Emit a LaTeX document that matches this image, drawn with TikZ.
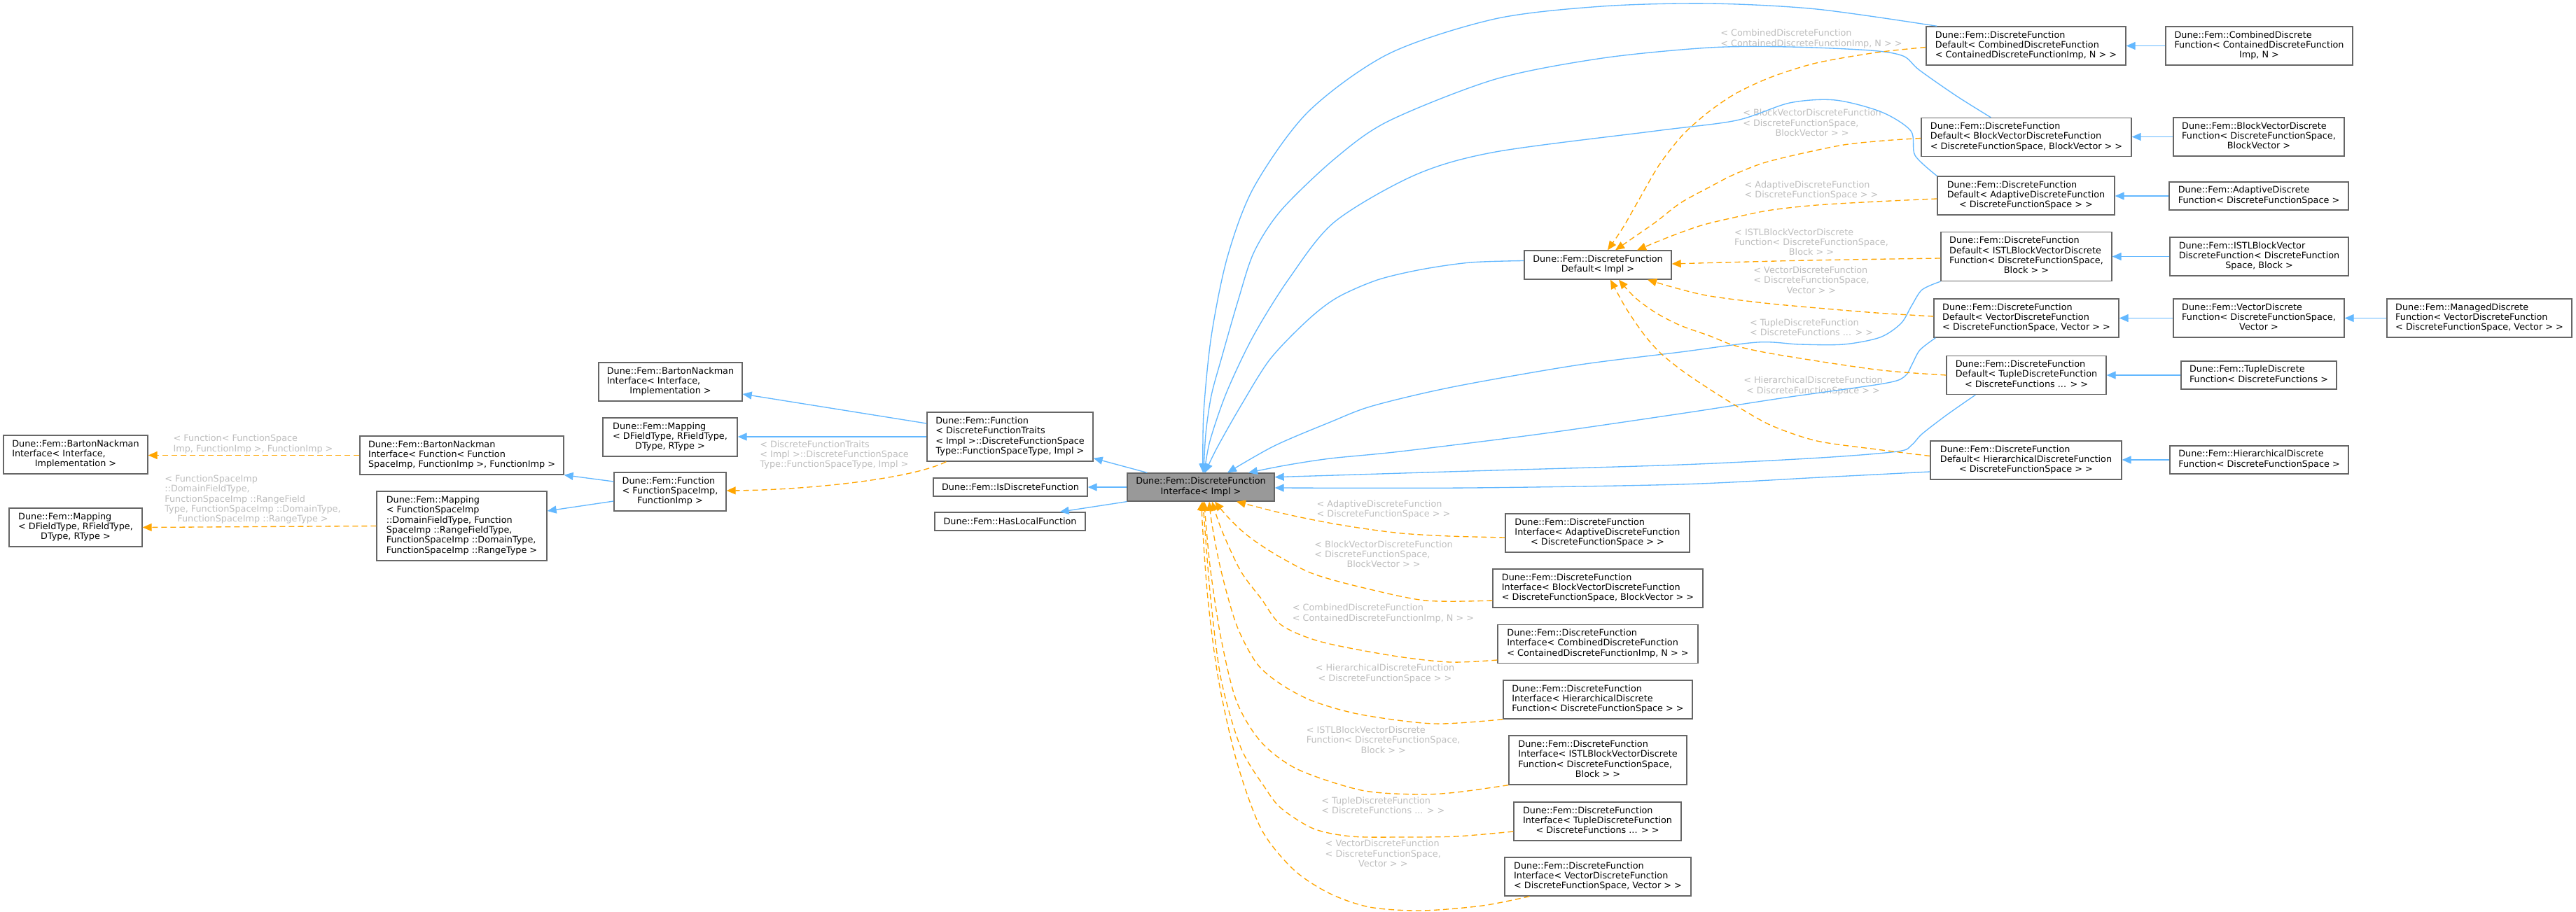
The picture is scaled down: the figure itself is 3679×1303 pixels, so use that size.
\documentclass[tikz,border=0pt]{standalone}
\usepackage{fontspec}
\setmainfont{DejaVu Sans}
\usetikzlibrary{arrows.meta}
\definecolor{cblue}{HTML}{63B8FF}
\definecolor{corange}{HTML}{FFA500}
\definecolor{cborder}{HTML}{666666}
\definecolor{cfill}{HTML}{999999}
\definecolor{clabel}{HTML}{BEBEBE}
\newcommand{\dl}[2]{\begin{tabular}{@{}l@{}}#1\\\multicolumn{1}{@{}c@{}}{#2}\end{tabular}}
\begin{document}
\begin{tikzpicture}[x=1pt,y=-1pt,
 every node/.style={font=\fontsize{12.8}{14.3}\selectfont},
 box/.style={draw=cborder, line width=1.33pt, fill=white, inner sep=0pt},
 mainbox/.style={box, fill=cfill},
 lbl/.style={text=clabel, inner sep=0pt},
 inh/.style={draw=cblue, line width=1.33pt, -{Triangle[length=13pt,width=11pt]}},
 tpl/.style={draw=corange, line width=1.33pt, dash pattern=on 8pt off 5pt, -{Triangle[length=13pt,width=11pt]}},
]
\useasboundingbox[fill=white] (0,0) rectangle (3679,1303);

% ---- left part
\node[box, minimum width=206pt, minimum height=55pt] (A1) at (108,649.5) {\dl{Dune::Fem::BartonNackman\\Interface< Interface,}{Implementation >}};
\node[box, minimum width=190pt, minimum height=55pt] (A2) at (108,753.5) {\dl{Dune::Fem::Mapping\\< DFieldType, RFieldType,}{DType, RType >}};
\node[box, minimum width=291pt, minimum height=55pt] (B1) at (659.5,650.5) {\dl{Dune::Fem::BartonNackman\\Interface< Function< Function}{SpaceImp, FunctionImp >, FunctionImp >}};
\node[box, minimum width=243pt, minimum height=99pt] (B2) at (659.5,751.5) {\dl{Dune::Fem::Mapping\\< FunctionSpaceImp\\::DomainFieldType, Function\\SpaceImp ::RangeFieldType,\\ FunctionSpaceImp ::DomainType,}{FunctionSpaceImp ::RangeType >}};
\node[box, minimum width=205pt, minimum height=55pt] (A3) at (957.5,545.5) {\dl{Dune::Fem::BartonNackman\\Interface< Interface,}{Implementation >}};
\node[box, minimum width=192pt, minimum height=55pt] (A4) at (957,624.5) {\dl{Dune::Fem::Mapping\\< DFieldType, RFieldType,}{DType, RType >}};
\node[box, minimum width=160pt, minimum height=55pt] (C) at (957,702.5) {\dl{Dune::Fem::Function\\< FunctionSpaceImp,}{FunctionImp >}};
\node[box, minimum width=237pt, minimum height=70pt] (D) at (1442.5,624) {\dl{Dune::Fem::Function\\< DiscreteFunctionTraits\\< Impl >::DiscreteFunctionSpace}{Type::FunctionSpaceType, Impl >}};
\node[box, minimum width=220pt, minimum height=26pt] (E) at (1443,696) {Dune::Fem::IsDiscreteFunction};
\node[box, minimum width=215pt, minimum height=26pt] (F) at (1442.5,745) {Dune::Fem::HasLocalFunction};
\node[mainbox, minimum width=210pt, minimum height=40pt] (G) at (1715,696) {\dl{Dune::Fem::DiscreteFunction}{Interface< Impl >}};
\node[box, minimum width=210pt, minimum height=41pt] (H) at (2282,378.5) {\dl{Dune::Fem::DiscreteFunction}{Default< Impl >}};

% ---- Default column
\node[box, minimum width=285pt, minimum height=55pt] (I1) at (2893.5,65.5) {\dl{Dune::Fem::DiscreteFunction\\Default< CombinedDiscreteFunction}{< ContainedDiscreteFunctionImp, N > >}};
\node[box, minimum width=300pt, minimum height=55pt] (I2) at (2894,196) {\dl{Dune::Fem::DiscreteFunction\\Default< BlockVectorDiscreteFunction}{< DiscreteFunctionSpace, BlockVector > >}};
\node[box, minimum width=253pt, minimum height=55pt] (I3) at (2893.5,279.5) {\dl{Dune::Fem::DiscreteFunction\\Default< AdaptiveDiscreteFunction}{< DiscreteFunctionSpace > >}};
\node[box, minimum width=244pt, minimum height=70pt] (I4) at (2894,366.5) {\dl{Dune::Fem::DiscreteFunction\\Default< ISTLBlockVectorDiscrete\\Function< DiscreteFunctionSpace,}{Block > >}};
\node[box, minimum width=264pt, minimum height=55pt] (I5) at (2894,454.5) {\dl{Dune::Fem::DiscreteFunction\\Default< VectorDiscreteFunction}{< DiscreteFunctionSpace, Vector > >}};
\node[box, minimum width=228pt, minimum height=55pt] (I6) at (2894,536) {\dl{Dune::Fem::DiscreteFunction\\Default< TupleDiscreteFunction}{< DiscreteFunctions ... > >}};
\node[box, minimum width=273pt, minimum height=55pt] (I7) at (2893.5,657.5) {\dl{Dune::Fem::DiscreteFunction\\Default< HierarchicalDiscreteFunction}{< DiscreteFunctionSpace > >}};

% ---- derived column
\node[box, minimum width=267pt, minimum height=55pt] (J1) at (3226.5,65.5) {\dl{Dune::Fem::CombinedDiscrete\\Function< ContainedDiscreteFunction}{Imp, N >}};
\node[box, minimum width=244pt, minimum height=55pt] (J2) at (3226,195.5) {\dl{Dune::Fem::BlockVectorDiscrete\\Function< DiscreteFunctionSpace,}{BlockVector >}};
\node[box, minimum width=256pt, minimum height=40pt] (J3) at (3226,280) {\dl{Dune::Fem::AdaptiveDiscrete}{Function< DiscreteFunctionSpace >}};
\node[box, minimum width=255pt, minimum height=55pt] (J4) at (3226.5,366.5) {\dl{Dune::Fem::ISTLBlockVector\\DiscreteFunction< DiscreteFunction}{Space, Block >}};
\node[box, minimum width=244pt, minimum height=55pt] (J5) at (3226,454.5) {\dl{Dune::Fem::VectorDiscrete\\Function< DiscreteFunctionSpace,}{Vector >}};
\node[box, minimum width=222pt, minimum height=40pt] (J6) at (3226,536) {\dl{Dune::Fem::TupleDiscrete}{Function< DiscreteFunctions >}};
\node[box, minimum width=255pt, minimum height=40pt] (J7) at (3226.5,657) {\dl{Dune::Fem::HierarchicalDiscrete}{Function< DiscreteFunctionSpace >}};
\node[box, minimum width=264pt, minimum height=55pt] (K) at (3541,454.5) {\dl{Dune::Fem::ManagedDiscrete\\Function< VectorDiscreteFunction}{< DiscreteFunctionSpace, Vector > >}};

% ---- Interface instances
\node[box, minimum width=263pt, minimum height=55pt] (M1) at (2281.5,761.5) {\dl{Dune::Fem::DiscreteFunction\\Interface< AdaptiveDiscreteFunction}{< DiscreteFunctionSpace > >}};
\node[box, minimum width=300pt, minimum height=55pt] (M2) at (2282,840.5) {\dl{Dune::Fem::DiscreteFunction\\Interface< BlockVectorDiscreteFunction}{< DiscreteFunctionSpace, BlockVector > >}};
\node[box, minimum width=286pt, minimum height=55pt] (M3) at (2282,920) {\dl{Dune::Fem::DiscreteFunction\\Interface< CombinedDiscreteFunction}{< ContainedDiscreteFunctionImp, N > >}};
\node[box, minimum width=270pt, minimum height=55pt] (M4) at (2282,999.5) {\dl{Dune::Fem::DiscreteFunction\\Interface< HierarchicalDiscrete}{Function< DiscreteFunctionSpace > >}};
\node[box, minimum width=254pt, minimum height=70pt] (M5) at (2282,1086) {\dl{Dune::Fem::DiscreteFunction\\Interface< ISTLBlockVectorDiscrete\\Function< DiscreteFunctionSpace,}{Block > >}};
\node[box, minimum width=239pt, minimum height=55pt] (M6) at (2281.5,1173.5) {\dl{Dune::Fem::DiscreteFunction\\Interface< TupleDiscreteFunction}{< DiscreteFunctions ... > >}};
\node[box, minimum width=266pt, minimum height=55pt] (M7) at (2282,1252.5) {\dl{Dune::Fem::DiscreteFunction\\Interface< VectorDiscreteFunction}{< DiscreteFunctionSpace, Vector > >}};

% ---- edge labels
\node[lbl] (lA) at (361.5,635) {\dl{< Function< FunctionSpace}{Imp, FunctionImp >, FunctionImp >}};
\node[lbl] (lB) at (361,714.3) {\dl{< FunctionSpaceImp\\::DomainFieldType,\\FunctionSpaceImp ::RangeField\\Type, FunctionSpaceImp ::DomainType,}{FunctionSpaceImp ::RangeType >}};
\node[lbl] (lC) at (1191.5,650.7) {\dl{< DiscreteFunctionTraits\\< Impl >::DiscreteFunctionSpace}{Type::FunctionSpaceType, Impl >}};
\node[lbl] (lD) at (2587,56.2) {\dl{< CombinedDiscreteFunction}{< ContainedDiscreteFunctionImp, N > >}};
\node[lbl] (lE) at (2588,177.3) {\dl{< BlockVectorDiscreteFunction\\< DiscreteFunctionSpace,}{BlockVector > >}};
\node[lbl] (lF) at (2587,272.5) {\dl{< AdaptiveDiscreteFunction}{< DiscreteFunctionSpace > >}};
\node[lbl] (lG) at (2587,347.7) {\dl{< ISTLBlockVectorDiscrete\\Function< DiscreteFunctionSpace,}{Block > >}};
\node[lbl] (lH) at (2587,402) {\dl{< VectorDiscreteFunction\\< DiscreteFunctionSpace,}{Vector > >}};
\node[lbl] (lI) at (2587,469.7) {\dl{< TupleDiscreteFunction}{< DiscreteFunctions ... > >}};
\node[lbl] (lJ) at (2589.5,552) {\dl{< HierarchicalDiscreteFunction}{< DiscreteFunctionSpace > >}};
\node[lbl] (lK) at (1976,728.5) {\dl{< AdaptiveDiscreteFunction}{< DiscreteFunctionSpace > >}};
\node[lbl] (lL) at (1976,793.6) {\dl{< BlockVectorDiscreteFunction\\< DiscreteFunctionSpace,}{BlockVector > >}};
\node[lbl] (lM) at (1975.5,877) {\dl{< CombinedDiscreteFunction}{< ContainedDiscreteFunctionImp, N > >}};
\node[lbl] (lN) at (1978,963) {\dl{< HierarchicalDiscreteFunction}{< DiscreteFunctionSpace > >}};
\node[lbl] (lO) at (1975.7,1059) {\dl{< ISTLBlockVectorDiscrete\\Function< DiscreteFunctionSpace,}{Block > >}};
\node[lbl] (lP) at (1975.4,1152.3) {\dl{< TupleDiscreteFunction}{< DiscreteFunctions ... > >}};
\node[lbl] (lQ) at (1975.3,1221.3) {\dl{< VectorDiscreteFunction\\< DiscreteFunctionSpace,}{Vector > >}};

% ---- left edges
\draw[tpl] (B1.west) -- (B1.west -| A1.east);
\draw[tpl] (B2.west) -- (A2.east);
\draw[inh] ([yshift=14.5pt]C.west) -- (B1.south east);
\draw[inh] ([yshift=-13.5pt]C.west) -- ([yshift=21.5pt]B2.east);
\draw[inh] ([yshift=19pt]D.west) -- ([yshift=-17.5pt]A3.east);
\draw[inh] (D.west) -- (D.west -| A4.east);
\draw[tpl] ([xshift=28pt]D.south west) .. controls (1300,685) and (1150,700) .. ([yshift=1.5pt]C.east);
\draw[inh] ([xshift=29pt]G.north west) -- ([yshift=5pt]D.south east);
\draw[inh] (G.west) -- (E.east);
\draw[inh] (G.south west) -- ([xshift=-37pt]F.north east);

% ---- right horizontal edges
\draw[inh] (J1.west) -- (J1.west -| I1.east);
\draw[inh] (J2.west) -- (J2.west -| I2.east);
\draw[inh] (J3.west) -- (J3.west -| I3.east);
\draw[inh] (J4.west) -- (J4.west -| I4.east);
\draw[inh] (J5.west) -- (J5.west -| I5.east);
\draw[inh] (K.west) -- (K.west -| J5.east);
\draw[inh] (J6.west) -- (J6.west -| I6.east);
\draw[inh] (J7.west) -- (J7.west -| I7.east);

% ---- Default instances -> Interface (blue)
\draw[inh] plot[smooth,tension=0.5] coordinates {([xshift=16pt]I1.north west) (2594,13) (2441,5) (2288,9) (2135,27) (1983,77) (1868,160) (1791,267) (1753,367) (1730,480) (1719,590) ([xshift=3pt]G.north)};
\draw[inh] plot[smooth,tension=0.5] coordinates {([xshift=100pt]I2.north west) (2794,137) (2741,100) (2718,80) (2671,72) (2556,67) (2442,68) (2289,83) (2136,113) (1983,173) (1906,227) (1830,300) (1791,360) (1768,430) (1745,510) (1730,565) (1722,620) ([xshift=4pt]G.north)};
\draw[inh] plot[smooth,tension=0.5] coordinates {(I3.north west) (2735,222) (2729,187) (2687,160) (2621,143) (2556,147) (2480,172) (2365,187) (2136,217) (2021,250) (1906,317) (1841,398) (1790,480) (1752,560) (1728,630) ([xshift=5pt]G.north)};
\draw[inh] plot[smooth,tension=0.5] coordinates {([yshift=6pt]H.west) (2100,375) (2030,385) (1967,400) (1910,425) (1868,457) (1814,513) (1772,580) (1738,640) ([xshift=6pt]G.north)};
\draw[inh] plot[smooth,tension=0.5] coordinates {(I4.south west) (2745,414) (2730,437) (2715,462) (2685,482) (2633,492) (2570,492) (2510,489) (2400,503) (2250,522) (2074,553) (1960,580) (1900,603) (1820,637) ([xshift=38pt]G.north)};
\draw[inh] plot[smooth,tension=0.5] coordinates {([xshift=3pt]I5.south west) (2742,500) (2731,520) (2720,538) (2690,548) (2550,568) (2400,591) (2200,620) (2000,645) (1900,655) (1835,665) ([xshift=68pt]G.north)};
\draw[inh] plot[smooth,tension=0.5] coordinates {([xshift=42pt]I6.south west) (2780,593) (2745,620) (2730,636) (2710,645) (2600,654) (2400,664) (2100,673) ([yshift=14.3pt]G.east)};
\draw[inh] plot[smooth,tension=0.5] coordinates {([yshift=-16.5pt]I7.west) (2600,682) (2400,692) (2100,697) ([yshift=-1pt]G.east)};

% ---- Default instances -> Default<Impl> (orange)
\draw[tpl] plot[smooth,tension=0.5] coordinates {([yshift=-2pt]I1.west) (2680,75) (2594,90) (2530,110) (2480,133) (2440,160) (2403,193) (2370,235) (2342,283) (2318,325) ([xshift=14pt]H.north)};
\draw[tpl] plot[smooth,tension=0.5] coordinates {([yshift=-1.5pt]I2.west) (2690,201) (2633,207) (2570,220) (2518,233) (2475,250) (2442,267) (2400,290) (2365,317) (2332,340) ([xshift=25pt]H.north)};
\draw[tpl] plot[smooth,tension=0.5] coordinates {([yshift=-4.5pt]I3.west) (2680,288) (2595,293) (2530,300) (2480,310) (2430,322) (2385,338) ([xshift=56pt]H.north)};
\draw[tpl] plot[smooth,tension=0.5] coordinates {([yshift=-2.5pt]I4.west) (2580,372) ([yshift=1.5pt]H.east)};
\draw[tpl] plot[smooth,tension=0.5] coordinates {([yshift=2.5pt]I5.west) (2680,447) (2595,440) (2520,433) (2442,423) (2395,412) ([xshift=71pt]H.south)};
\draw[tpl] plot[smooth,tension=0.5] coordinates {(I6.west) (2720,532) (2671,527) (2590,515) (2518,503) (2475,493) (2442,480) (2400,465) (2365,447) (2335,425) ([xshift=30pt]H.south)};
\draw[tpl] plot[smooth,tension=0.5] coordinates {([yshift=6pt]I7.west) (2680,642) (2595,630) (2530,608) (2480,580) (2440,555) (2403,530) (2372,505) (2348,478) (2322,440) ([xshift=18pt]H.south)};

% ---- Interface instances -> Interface (orange)
\draw[tpl] plot[smooth,tension=0.5] coordinates {([yshift=-6.5pt]M1.west) (2070,766) (2002,762) (1940,754) (1887,745) (1830,733) ([xshift=51pt]G.south)};
\draw[tpl] plot[smooth,tension=0.5] coordinates {([yshift=-17.5pt]M2.west) (2036,858) (1944,839) (1876,820) (1830,797) (1795,775) (1772,757) (1752,737) ([xshift=20pt]G.south)};
\draw[tpl] plot[smooth,tension=0.5] coordinates {([yshift=-23pt]M3.west) (2071,946) (1990,937) (1887,917) (1830,893) (1801,855) (1772,816) (1745,758) ([xshift=16pt]G.south)};
\draw[tpl] plot[smooth,tension=0.5] coordinates {(M4.south west) (2048,1034) (1944,1021) (1876,1002) (1830,978) (1795,948) (1766,893) (1744,816) (1731,750) ([xshift=12pt]G.south)};
\draw[tpl] plot[smooth,tension=0.5] coordinates {(M5.south west) (2080,1132) (2025,1135) (1944,1129) (1853,1099) (1801,1060) (1766,1002) (1744,913) (1729,816) (1722,745) ([xshift=5pt]G.south)};
\draw[tpl] plot[smooth,tension=0.5] coordinates {([yshift=-14.5pt]M6.west) (2080,1195) (2002,1196) (1930,1195) (1876,1184) (1830,1155) (1807,1126) (1772,1068) (1744,971) (1729,855) (1720,745) ([xshift=3pt]G.south)};
\draw[tpl] plot[smooth,tension=0.5] coordinates {([xshift=36pt]M7.south west) (2117,1294) (2030,1301) (1956,1296) (1898,1276) (1847,1242) (1801,1184) (1766,1087) (1740,970) (1725,855) (1717,745) ([xshift=2pt]G.south)};
\end{tikzpicture}
\end{document}
